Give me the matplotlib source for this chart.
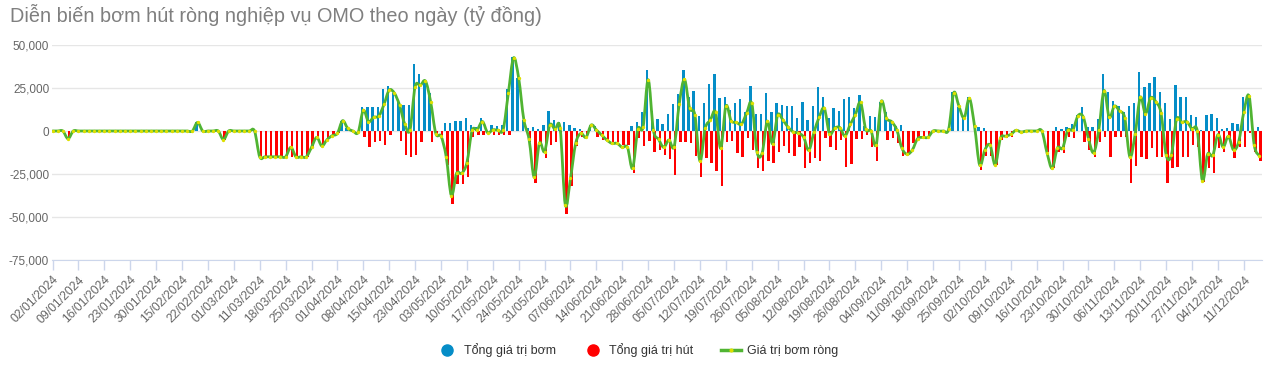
import numpy as np
import matplotlib
matplotlib.use('Agg')
import matplotlib.pyplot as plt
from matplotlib.path import Path
from matplotlib.patches import PathPatch
from matplotlib.lines import Line2D
from matplotlib.ticker import FuncFormatter

plt.rcParams['font.family'] = ['Liberation Sans', 'DejaVu Sans']

title = 'Diễn biến bơm hút ròng nghiệp vụ OMO theo ngày (tỷ đồng)'
series_names = ['Tổng giá trị bơm', 'Tổng giá trị hút', 'Giá trị bơm ròng']

# one label every 5 trading days
tick_labels = ['02/01/2024', '09/01/2024', '16/01/2024', '23/01/2024', '30/01/2024',
               '15/02/2024', '22/02/2024', '01/03/2024', '11/03/2024', '18/03/2024',
               '25/03/2024', '01/04/2024', '08/04/2024', '15/04/2024', '23/04/2024',
               '03/05/2024', '10/05/2024', '17/05/2024', '24/05/2024', '31/05/2024',
               '07/06/2024', '14/06/2024', '21/06/2024', '28/06/2024', '05/07/2024',
               '12/07/2024', '19/07/2024', '26/07/2024', '05/08/2024', '12/08/2024',
               '19/08/2024', '26/08/2024', '04/09/2024', '11/09/2024', '18/09/2024',
               '25/09/2024', '02/10/2024', '09/10/2024', '16/10/2024', '23/10/2024',
               '30/10/2024', '06/11/2024', '13/11/2024', '20/11/2024', '27/11/2024',
               '04/12/2024', '11/12/2024']

# injection (blue bars), ty dong per trading day
inj = [0, 0, 0, 0, 0, 0, 0, 0, 0, 0,
       0, 0, 0, 0, 0, 0, 0, 0, 0, 0,
       0, 0, 0, 0, 0, 0, 0, 0, 5000, 0,
       0, 0, 0, 0, 0, 0, 0, 0, 0, 0,
       0, 0, 0, 0, 0, 0, 0, 0, 0, 0,
       0, 0, 0, 0, 0, 0, 6000, 1500, 0, 0,
       13800, 13800, 13800, 13800, 24200, 26200, 22300, 17100, 15100, 15100,
       39000, 33100, 29700, 22000, 0, 0, 4800, 4800, 5800, 5800,
       7400, 3500, 2500, 7400, 0, 3500, 2900, 3500, 24200, 42800,
       30600, 6400, 1500, 2100, 1000, 3500, 11600, 6400, 5000, 5000,
       3500, 1500, 1000, 0, 3500, 2900, 0, 0, 0, 0,
       0, 0, 2900, 5000, 11200, 35500, 11800, 6800, 4100, 9900,
       15700, 21500, 35500, 19600, 23300, 8700, 16500, 27300, 33100, 19000,
       19600, 12000, 16500, 18400, 11200, 26200, 9900, 9900, 22300, 11200,
       16500, 15100, 14500, 14500, 7400, 17000, 6400, 14500, 25400, 19600,
       7400, 13200, 11800, 18400, 19600, 13200, 20900, 3000, 8700, 8300,
       17000, 11200, 6000, 2900, 3500, 0, 0, 0, 0, 0,
       0, 0, 0, 0, 22900, 14100, 7400, 19600, 0, 2100,
       1500, 0, 0, 0, 0, 0, 0, 0, 0, 0,
       0, 0, 0, 0, 2100, 1000, 2100, 4100, 9300, 13800,
       2100, 2100, 6800, 33100, 22900, 17600, 14500, 11200, 14500, 16500,
       34100, 25400, 27700, 31600, 22900, 16500, 6800, 26700, 19600, 20000,
       9300, 7900, 600, 9300, 9900, 7400, 1000, 1500, 4800, 4100,
       19600, 19600, 0, 2100]

# absorption (red bars, drawn below zero)
absorb = [0, 0, 0, 4500, 0, 0, 0, 0, 0, 0,
          0, 0, 0, 0, 0, 0, 0, 0, 0, 0,
          0, 0, 0, 0, 0, 0, 0, 0, 0, 0,
          0, 0, 0, 5000, 0, 0, 0, 0, 0, 0,
          15000, 15000, 15000, 15000, 15000, 15000, 15000, 15000, 15000, 15000,
          9500, 3700, 8700, 5000, 2700, 1400, 0, 0, 0, 800,
          3300, 9500, 6200, 5600, 8100, 2300, 0, 5600, 14000, 14900,
          14000, 6500, 0, 6500, 1500, 3000, 19700, 42400, 30800, 30800,
          26500, 3300, 2300, 2300, 0, 2300, 2300, 2300, 2300, 0,
          0, 0, 6200, 30000, 8100, 15900, 8100, 6200, 3500, 48300,
          31800, 8700, 3300, 3300, 0, 3300, 5200, 6200, 6200, 6200,
          8100, 8100, 24600, 4300, 8700, 6000, 12000, 11000, 14000, 16500,
          25600, 6200, 6200, 7200, 14500, 26500, 15900, 18800, 23100, 31800,
          6200, 6000, 12600, 15300, 4300, 11000, 21700, 23100, 17200, 18800,
          12000, 8700, 12600, 14800, 9500, 21700, 18400, 15900, 17200, 4300,
          9100, 11000, 5200, 21100, 19200, 4800, 4800, 2300, 9100, 17200,
          0, 5200, 4300, 7200, 14500, 12600, 7200, 4300, 4300, 4300,
          0, 0, 0, 0, 0, 0, 0, 0, 0, 22700,
          14500, 14500, 19800, 5200, 4300, 3700, 0, 0, 0, 0,
          0, 0, 12000, 21700, 12000, 12600, 3300, 4300, 0, 6200,
          11000, 15300, 6200, 3300, 15300, 3700, 3700, 3700, 30400, 20300,
          14900, 16500, 10100, 15300, 15300, 30400, 21700, 20700, 15300, 15300,
          8100, 9500, 29500, 21700, 24600, 10100, 12000, 4800, 15800, 9500,
          9100, 1400, 12000, 17200]

# net injection (green line)
net = [0, 0, 0, -4500, 0, 0, 0, 0, 0, 0,
       0, 0, 0, 0, 0, 0, 0, 0, 0, 0,
       0, 0, 0, 0, 0, 0, 0, 0, 5000, 0,
       0, 0, 0, -5000, 0, 0, 0, 0, 0, 0,
       -15000, -15000, -15000, -15000, -15000, -15000, -9500, -15000, -15000, -15000,
       -9500, -3700, -8700, -5000, -2700, -1400, 6000, 1500, 0, -800,
       12000, 5400, 8000, 8700, 15500, 23800, 22000, 15000, 4000, 500,
       25800, 26500, 29000, 17000, -1500, -3000, -14900, -37500, -24600, -24600,
       -18400, 300, 800, 5500, -1000, 700, 500, 800, 22000, 42500,
       30600, 6400, -4800, -26900, -7000, -12000, 3500, 1000, 1500, -43000,
       -27500, -7200, -1400, -3700, 3500, 600, -2300, -5200, -7200, -7200,
       -9500, -9500, -21700, 1000, 2100, 29800, 600, -4800, -9500, -5200,
       -9100, 15900, 30000, 13200, 9500, -17500, 1500, 6400, 11000, -10100,
       14500, 6000, 5000, 4000, 10300, 16000, -12000, -12800, 5700, -7400,
       9300, 6400, 2200, -500, -1200, -3500, -11200, -800, 8000, 13200,
       -1600, 1700, 2000, -2900, 3800, 9500, 16700, 1000, 200, -8100,
       17200, 7400, 5400, 600, -10100, -13500, -11000, -4500, -3700, -3700,
       0, 0, 0, 1000, 22300, 14300, 7600, 19000, 2900, -19800,
       -11000, -8100, -19700, -4300, -3000, -2000, 400, -600, 0, 0,
       0, 0, -12700, -21700, -9800, -10000, 400, 800, 9000, 8100,
       -4500, -12600, 800, 23500, 7900, 14500, 11600, 7600, -15100, -2000,
       19600, 10100, 19300, 17000, 10500, -14000, -14000, 6800, 5100, 5400,
       1200, 200, -28900, -13500, -14200, -2100, -9400, -3100, -11000, -6200,
       11200, 20300, -8200, -14500]

blue = '#058DC7'
red = '#FF0000'
green = '#50B432'
dot = '#DDDF00'

fig = plt.figure(figsize=(12.69, 3.76), dpi=100)
ax = fig.add_axes([52 / 1269, 1 - 260 / 376, 1210 / 1269, 215 / 376])

x = np.arange(len(net))
ax.bar(x - 0.22, inj, width=0.46, color=blue, linewidth=0, zorder=2)
ax.bar(x + 0.22, -np.array(absorb), width=0.46, color=red, linewidth=0, zorder=2)

# smooth spline through the net points (cubic bezier, catmull-rom style)
y = np.array(net, dtype=float)
verts = [(x[0], y[0])]
codes = [Path.MOVETO]
n = len(x)
for i in range(n - 1):
    a = max(i - 1, 0)
    b = min(i + 2, n - 1)
    c1 = (x[i] + (x[i + 1] - x[a]) / 6, y[i] + (y[i + 1] - y[a]) / 6)
    c2 = (x[i + 1] - (x[b] - x[i]) / 6, y[i + 1] - (y[b] - y[i]) / 6)
    verts += [c1, c2, (x[i + 1], y[i + 1])]
    codes += [Path.CURVE4] * 3
ax.add_patch(PathPatch(Path(verts, codes), fill=False, edgecolor=green, lw=2, zorder=4,
                       capstyle='round', joinstyle='round'))
ax.plot(x, y, ls='', marker='o', markersize=1.4, color=dot, zorder=5)

# axes styling
ax.set_xlim(-0.1, 233.5)
ax.set_ylim(-75000, 50000)
ax.set_yticks(np.arange(-75000, 50001, 25000))
ax.yaxis.set_major_formatter(FuncFormatter(lambda v, p: f'{v:,.0f}'))
ax.yaxis.grid(True, color='#e6e6e6', lw=1, zorder=0)
ax.set_axisbelow(True)
for side in ['left', 'right', 'top']:
    ax.spines[side].set_visible(False)
ax.spines['bottom'].set_color('#ccd6eb')
ax.tick_params(axis='y', length=0, pad=2, labelsize=8.5, labelcolor='#666666')

ax.set_xticks(x[::5][:len(tick_labels)])
ax.set_xticklabels(tick_labels, rotation=45, ha='right', rotation_mode='anchor')
ax.tick_params(axis='x', length=7, width=1, color='#ccd6eb', pad=3,
               labelsize=8.8, labelcolor='#666666')

fig.text(10 / 1269, 1 - 15 / 376, title, fontsize=14.3, color='#7f7f7f',
         ha='left', va='center')

handles = [
    Line2D([], [], ls='', marker='o', markersize=8, color=blue, label=series_names[0]),
    Line2D([], [], ls='', marker='o', markersize=8, color=red, label=series_names[1]),
    Line2D([], [], color=green, lw=2.5, marker='o', markersize=2,
           markerfacecolor=dot, markeredgecolor=dot, label=series_names[2]),
]
fig.legend(handles=handles, loc='center', bbox_to_anchor=(638 / 1269, 1 - 350 / 376),
           ncol=3, frameon=False, fontsize=9, labelcolor='#333333',
           handlelength=1.6, handletextpad=0.5, columnspacing=2.2)

fig.savefig('out.png', dpi=100)
